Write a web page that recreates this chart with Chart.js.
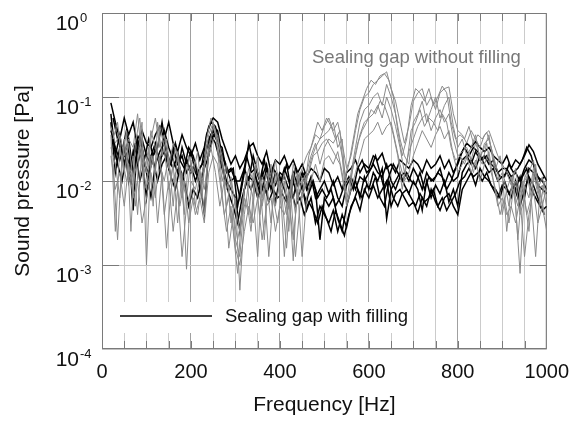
<!DOCTYPE html>
<html>
  <head>
    <title>Sound pressure spectrum</title>
    <script src="https://cdn.jsdelivr.net/npm/chart.js"></script>
    <style>
      body {
        margin: 0;
        background: #fff;
      }
      .chart-container {
        width: 580px;
        height: 421px;
      }
    </style>
  </head>
  <body>
    <div class="chart-container">
      <canvas id="myChart"></canvas>
    </div>

    <script>
// frequency points [Hz]
const freq = [20, 30, 40, 50, 60, 70, 80, 90, 100,
  110, 120, 130, 140, 150, 160, 170, 180, 190, 200,
  210, 220, 230, 240, 250, 260, 270, 280, 290, 300,
  310, 320, 330, 340, 350, 360, 370, 380, 390, 400,
  410, 420, 430, 440, 450, 460, 470, 480, 490, 500,
  510, 520, 530, 540, 550, 560, 570, 580, 590, 600,
  610, 620, 630, 640, 650, 660, 670, 680, 690, 700,
  710, 720, 730, 740, 750, 760, 770, 780, 790, 800,
  810, 820, 830, 840, 850, 860, 870, 880, 890, 900,
  910, 920, 930, 940, 950, 960, 970, 980, 990, 1000];
// second set of measurements, sampled in between
const freqB = [25, 35, 45, 55, 65, 75, 85, 95,
  105, 115, 125, 135, 145, 155, 165, 175, 185, 195,
  205, 215, 225, 235, 245, 255, 265, 275, 285, 295,
  305, 315, 325, 335, 345, 355, 365, 375, 385, 395,
  405, 415, 425, 435, 445, 455, 465, 475, 485, 495,
  505, 515, 525, 535, 545, 555, 565, 575, 585, 595,
  605, 615, 625, 635, 645, 655, 665, 675, 685, 695,
  705, 715, 725, 735, 745, 755, 765, 775, 785, 795,
  805, 815, 825, 835, 845, 855, 865, 875, 885, 895,
  905, 915, 925, 935, 945, 955, 965, 975, 985, 995];

// levels, as log10 of sound pressure in Pa
// sealing gap without filling (grey)
const noFill1 = [-1.35, -1.55, -1.45, -1.7, -1.5, -1.6, -1.2, -1.75, -2.1,
  -1.5, -1.25, -1.6, -1.45, -1.85, -1.55, -1.7, -2.2, -1.8, -1.9,
  -1.75, -2.0, -1.8, -1.45, -1.3, -1.5, -1.7, -2.1, -1.95, -2.3,
  -2.6, -2.1, -1.85, -2.0, -1.7, -2.2, -1.9, -2.05, -1.75, -2.15,
  -1.9, -2.3, -1.8, -2.0, -1.85, -1.7, -1.6, -1.45, -1.5, -1.35,
  -1.25, -1.4, -1.3, -1.55, -1.85, -1.7, -1.4, -1.15, -1.0, -0.95,
  -0.85, -0.8, -0.75, -0.7, -0.9, -1.05, -1.3, -1.55, -1.35, -1.05,
  -0.95, -0.9, -1.1, -1.0, -1.15, -0.95, -0.9, -0.88, -1.2, -1.4,
  -1.45, -1.55, -1.4, -1.5, -1.6, -1.45, -1.4, -1.55, -1.7, -1.8,
  -1.9, -2.05, -1.85, -2.2, -2.0, -1.9, -1.75, -2.1, -1.95, -2.2];
const noFill2 = [-1.45, -2.6, -1.6, -1.9, -1.55, -2.0, -1.75, -1.3, -3.0,
  -1.7, -1.9, -1.35, -1.6, -2.1, -1.8, -2.5, -1.9, -3.05, -2.0,
  -2.1, -1.85, -2.4, -1.6, -1.35, -1.55, -2.0, -1.8, -2.5, -2.2,
  -3.3, -2.4, -2.0, -2.2, -2.9, -1.95, -2.1, -1.8, -2.3, -2.0,
  -2.9, -2.1, -2.95, -1.9, -2.2, -2.0, -1.75, -1.6, -1.5, -1.45,
  -1.4, -1.3, -1.6, -1.5, -2.25, -1.9, -1.6, -1.3, -1.15, -1.1,
  -1.0, -0.95, -1.1, -0.85, -1.0, -1.2, -1.5, -1.7, -1.8, -1.3,
  -1.2, -1.05, -1.3, -1.15, -1.0, -1.25, -1.1, -1.0, -1.35, -1.6,
  -1.5, -1.7, -1.6, -1.45, -1.75, -1.55, -1.5, -1.7, -1.9, -2.4,
  -2.1, -1.95, -2.3, -3.1, -2.05, -2.2, -1.85, -2.0, -2.3, -2.05];
const noFill3 = [-1.6, -1.8, -2.2, -1.5, -2.0, -1.7, -2.4, -1.6, -1.9,
  -1.4, -1.6, -1.8, -2.0, -1.7, -2.3, -1.65, -2.0, -2.2, -1.75,
  -2.3, -1.9, -2.1, -1.7, -1.5, -1.45, -1.8, -2.3, -2.0, -2.7,
  -2.9, -2.2, -2.4, -1.9, -2.1, -2.3, -2.0, -2.5, -1.9, -2.2,
  -2.0, -2.6, -1.9, -2.2, -2.0, -1.9, -1.7, -1.55, -1.8, -1.6,
  -1.5, -1.55, -1.45, -1.7, -2.0, -1.95, -1.7, -1.45, -1.3, -1.25,
  -1.2, -1.1, -1.25, -1.0, -1.15, -1.35, -1.6, -1.9, -1.65, -1.5,
  -1.35, -1.25, -1.2, -1.4, -1.25, -1.15, -1.3, -1.2, -1.5, -1.7,
  -1.65, -1.6, -1.75, -1.55, -1.7, -1.6, -1.45, -1.8, -2.0, -1.9,
  -2.6, -2.1, -2.0, -2.4, -2.2, -2.6, -1.9, -2.15, -2.05, -2.3];
const noFill4 = [-1.7, -2.1, -1.9, -2.3, -1.8, -2.2, -2.0, -2.5, -2.2,
  -1.9, -2.2, -1.7, -2.4, -2.0, -2.6, -2.1, -2.9, -2.3, -2.1,
  -2.4, -2.2, -2.5, -1.9, -1.7, -1.8, -2.2, -2.6, -2.3, -2.8,
  -3.0, -2.6, -2.3, -2.5, -2.2, -2.7, -2.3, -2.2, -2.6, -2.3,
  -2.4, -2.2, -2.7, -2.1, -2.9, -2.2, -2.0, -1.8, -2.0, -1.75,
  -1.7, -1.8, -1.65, -1.9, -2.3, -2.1, -1.9, -1.7, -1.5, -1.45,
  -1.4, -1.3, -1.45, -1.35, -1.3, -1.55, -1.8, -2.0, -1.9, -1.7,
  -1.55, -1.4, -1.5, -1.6, -1.45, -1.35, -1.5, -1.4, -1.7, -1.9,
  -1.8, -1.7, -1.9, -1.75, -2.0, -1.8, -1.65, -2.0, -2.3, -2.2,
  -2.4, -2.3, -2.5, -2.2, -2.9, -2.4, -2.1, -2.5, -2.3, -2.6];
const noFill5 = [-1.5, -1.3, -1.8, -1.4, -2.6, -1.55, -1.25, -1.9,
  -1.6, -2.3, -1.3, -1.7, -1.5, -2.0, -1.6, -1.85, -2.4, -1.7,
  -1.9, -1.65, -2.2, -1.5, -1.25, -1.4, -1.9, -2.4, -2.2, -2.6,
  -3.1, -2.3, -1.9, -2.5, -1.8, -2.0, -2.7, -1.85, -2.1, -1.9,
  -2.2, -2.8, -2.0, -2.4, -1.9, -2.1, -1.7, -1.5, -1.3, -1.4,
  -1.25, -1.35, -1.5, -1.4, -2.0, -1.8, -1.5, -1.2, -1.05, -0.9,
  -0.8, -0.85, -0.75, -0.72, -0.8, -1.0, -1.4, -1.7, -1.5, -1.1,
  -0.9, -0.95, -1.05, -0.9, -1.1, -1.0, -0.87, -0.95, -1.3, -1.5,
  -1.45, -1.5, -1.35, -1.55, -1.45, -1.5, -1.42, -1.6, -1.85, -1.7,
  -2.0, -2.3, -1.9, -2.7, -2.05, -1.9, -2.2, -1.8, -2.3, -2.0];
const noFill6 = [-1.8, -2.7, -1.7, -2.0, -1.9, -2.3, -1.6, -2.1,
  -2.0, -1.7, -2.5, -1.9, -2.8, -2.1, -1.9, -2.3, -2.0, -2.5,
  -2.2, -2.4, -2.0, -1.7, -1.6, -1.9, -2.3, -2.0, -2.8, -2.4,
  -2.7, -2.4, -2.2, -2.6, -2.0, -2.4, -2.1, -2.9, -2.2, -2.5,
  -2.1, -2.4, -2.2, -2.9, -2.3, -2.0, -1.9, -1.7, -1.65, -1.55,
  -1.5, -1.6, -1.7, -1.8, -2.1, -2.2, -1.8, -1.55, -1.4, -1.3,
  -1.15, -1.2, -1.05, -1.1, -1.25, -1.45, -1.7, -2.1, -1.8, -1.4,
  -1.3, -1.15, -1.35, -1.25, -1.3, -1.4, -1.2, -1.3, -1.6, -1.75,
  -1.7, -1.8, -1.65, -1.9, -1.7, -1.8, -1.55, -1.9, -2.1, -2.4,
  -2.2, -2.5, -2.1, -2.3, -2.0, -2.4, -2.2, -2.9, -2.1, -2.4];

// sealing gap with filling (black)
const withFill1 = [-1.07, -1.3, -1.5, -1.25, -1.45, -1.3, -1.6, -1.4, -1.55,
  -1.6, -1.45, -1.35, -1.5, -1.3, -1.55, -1.65, -1.45, -1.6, -1.7,
  -1.55, -1.75, -1.6, -1.35, -1.25, -1.3, -1.5, -1.65, -1.8, -1.7,
  -1.85, -1.75, -1.6, -1.55, -1.7, -1.8, -1.65, -1.9, -1.75, -1.8,
  -1.7, -1.85, -1.75, -1.9, -1.8, -1.95, -1.85, -1.9, -2.0, -1.85,
  -1.9, -2.05, -1.95, -2.1, -1.9, -1.85, -1.75, -1.9, -1.8, -1.85,
  -1.7, -1.75, -1.67, -1.85, -1.8, -1.9, -1.75, -1.8, -1.85, -1.75,
  -1.8, -1.9, -1.75, -1.85, -1.8, -1.7, -1.85, -1.75, -1.9, -1.8,
  -1.65, -1.55, -1.6, -1.53, -1.6, -1.65, -1.6, -1.7, -1.75, -1.8,
  -1.7, -1.85, -1.75, -1.8, -1.7, -1.57, -1.65, -1.8, -1.9, -2.0];
const withFill2 = [-1.2, -1.7, -1.45, -1.8, -1.6, -2.35, -1.5, -1.75, -2.2,
  -1.7, -1.55, -1.85, -1.4, -1.6, -1.75, -1.9, -1.6, -1.8, -1.65,
  -1.9, -2.0, -2.38, -1.6, -1.35, -1.4, -1.7, -1.85, -2.0, -1.95,
  -2.2, -1.9, -1.55, -1.8, -2.05, -1.95, -1.8, -2.1, -1.9, -2.05,
  -1.85, -2.0, -2.2, -1.95, -2.1, -2.25, -2.0, -2.1, -2.7, -2.2,
  -2.3, -2.2, -2.45, -2.6, -2.3, -2.1, -2.0, -2.2, -1.95, -2.1,
  -1.9, -2.0, -1.85, -2.45, -2.1, -2.0, -1.9, -2.05, -2.15, -2.0,
  -2.1, -2.35, -2.0, -2.2, -2.05, -2.15, -2.0, -2.25, -2.1, -2.3,
  -1.9, -1.8, -1.75, -1.85, -1.7, -1.8, -1.9, -1.85, -2.0, -1.95,
  -1.9, -2.0, -2.1, -1.95, -2.2, -1.85, -1.9, -2.05, -2.1, -2.15];
const withFill3 = [-1.4, -1.6, -1.75, -1.55, -2.0, -1.65, -1.8, -1.6, -1.9,
  -2.19, -1.8, -1.65, -1.55, -1.75, -1.85, -1.7, -2.0, -1.75, -1.9,
  -1.8, -2.1, -1.85, -1.7, -1.45, -1.5, -1.8, -2.0, -2.1, -2.2,
  -2.6, -2.1, -1.95, -2.0, -2.2, -1.9, -2.15, -2.0, -2.25, -1.95,
  -2.1, -2.3, -2.0, -2.2, -2.05, -2.35, -2.2, -2.5, -2.3, -2.4,
  -2.5, -2.35, -2.6, -2.4, -2.55, -2.3, -2.2, -2.35, -2.1, -2.2,
  -2.05, -2.2, -2.1, -2.0, -2.3, -2.15, -2.1, -2.2, -2.3, -2.25,
  -2.38, -2.2, -2.3, -2.1, -2.25, -2.35, -2.2, -2.15, -2.3, -2.4,
  -2.1, -2.0, -1.9, -2.05, -1.85, -1.95, -2.0, -2.1, -2.2, -2.05,
  -2.1, -2.2, -2.0, -2.3, -2.1, -1.95, -2.05, -2.2, -2.35, -2.3];
const withFill4 = [-1.3, -1.9, -1.6, -1.7, -1.5, -1.9, -1.65, -1.5, -1.7,
  -1.8, -1.6, -1.75, -1.65, -1.85, -1.6, -1.8, -1.7, -1.9, -1.8,
  -2.0, -1.85, -1.75, -1.5, -1.4, -1.55, -1.6, -1.9, -1.85, -2.0,
  -2.0, -1.85, -2.0, -1.7, -1.9, -2.1, -1.85, -1.95, -2.05, -1.9,
  -1.95, -2.1, -1.9, -2.05, -1.9, -2.1, -1.95, -2.2, -2.1, -2.0,
  -2.15, -2.0, -2.2, -2.3, -2.05, -1.95, -2.1, -1.95, -2.0, -1.9,
  -1.8, -1.9, -1.95, -1.8, -2.0, -2.1, -1.95, -1.9, -2.0, -1.85,
  -1.95, -2.1, -1.9, -2.0, -1.95, -1.85, -2.05, -1.9, -2.0, -1.95,
  -1.75, -1.7, -1.8, -1.65, -1.75, -1.7, -1.8, -1.75, -1.9, -1.85,
  -1.85, -1.95, -1.9, -2.0, -1.85, -1.75, -1.8, -1.95, -2.0, -2.1];
const withFill5 = [-1.25, -1.5, -1.65, -1.4, -1.8, -1.55, -1.45, -1.75,
  -1.5, -1.7, -1.6, -1.3, -1.65, -1.8, -1.55, -1.75, -1.85, -1.6,
  -1.7, -1.9, -1.8, -1.45, -1.3, -1.35, -1.6, -1.75, -1.9, -1.85,
  -2.3, -2.0, -1.7, -1.9, -1.85, -2.0, -1.75, -2.05, -1.85, -1.95,
  -2.0, -1.8, -2.1, -1.85, -2.0, -1.9, -2.15, -2.0, -2.2, -2.1,
  -2.2, -2.1, -2.3, -2.2, -2.05, -1.95, -2.1, -1.85, -1.75, -1.9,
  -1.85, -1.7, -1.9, -2.1, -1.95, -1.8, -1.9, -2.0, -1.9, -2.0,
  -2.05, -1.9, -2.1, -1.95, -2.0, -1.9, -1.95, -2.1, -2.0, -1.85,
  -1.7, -1.6, -1.7, -1.6, -1.65, -1.75, -1.7, -1.8, -1.85, -1.95,
  -1.95, -1.8, -1.9, -1.85, -1.75, -1.6, -1.7, -1.9, -2.0, -1.95];
const withFill6 = [-1.5, -1.8, -2.0, -1.7, -1.85, -1.6, -2.0, -1.8,
  -1.9, -1.75, -2.0, -1.8, -1.7, -1.95, -2.1, -1.85, -2.0, -2.3,
  -2.1, -2.2, -1.95, -1.6, -1.45, -1.55, -1.75, -1.95, -2.15, -2.3,
  -2.5, -2.2, -2.0, -2.1, -1.95, -2.15, -2.05, -2.25, -2.1, -2.2,
  -2.15, -2.25, -2.1, -2.3, -2.2, -2.4, -2.25, -2.35, -2.5, -2.3,
  -2.45, -2.6, -2.35, -2.5, -2.65, -2.4, -2.25, -2.1, -2.2, -2.05,
  -2.1, -1.95, -2.2, -2.3, -2.0, -2.2, -2.3, -2.15, -2.1, -2.2,
  -2.3, -2.15, -2.25, -2.2, -2.1, -2.3, -2.2, -2.35, -2.25, -2.15,
  -2.0, -1.95, -1.85, -1.95, -1.9, -2.0, -1.9, -2.05, -2.1, -2.2,
  -2.0, -2.15, -2.05, -2.2, -1.95, -1.85, -2.1, -2.2, -2.3, -2.4];

const noFillSeries = [
  [freq, noFill1], [freqB, noFill5], [freq, noFill2],
  [freqB, noFill6], [freq, noFill3], [freq, noFill4],
];
const withFillSeries = [
  [freq, withFill1], [freqB, withFill5], [freq, withFill2],
  [freqB, withFill6], [freq, withFill3], [freq, withFill4],
];
const yDecades = [-4, -3, -2, -1, 0];
const xLabelEvery = 200;

function toPoints(f, levels) {
  return levels.map((v, i) => ({ x: f[i], y: Math.pow(10, v) }));
}

const datasets = [];
noFillSeries.forEach(([f, s]) => {
  datasets.push({ data: toPoints(f, s), borderColor: "#8a8a8a", borderWidth: 1 });
});
withFillSeries.forEach(([f, s]) => {
  datasets.push({ data: toPoints(f, s), borderColor: "#000000", borderWidth: 1.5 });
});

// white boxes behind the annotations, inner tick marks, log labels
const decor = {
  id: "decor",
  beforeDatasetsDraw(chart) {
    const { ctx, chartArea: a, scales } = chart;
    ctx.save();
    ctx.fillStyle = "#fff";
    ctx.fillRect(a.left + 1, 302, 303, 31);
    ctx.fillRect(310, 44, 215, 24);
    ctx.strokeStyle = "#7a7a7a";
    ctx.lineWidth = 1;
    ctx.beginPath();
    for (let f = 50; f < 1000; f += 50) {
      const px = Math.round(scales.x.getPixelForValue(f)) + 0.5;
      ctx.moveTo(px, a.top); ctx.lineTo(px, a.top + 8);
      ctx.moveTo(px, a.bottom); ctx.lineTo(px, a.bottom - 8);
    }
    yDecades.slice(1, -1).forEach((d) => {
      const py = Math.round(scales.y.getPixelForValue(Math.pow(10, d))) + 0.5;
      ctx.moveTo(a.left, py); ctx.lineTo(a.left + 17, py);
      ctx.moveTo(a.right, py); ctx.lineTo(a.right - 17, py);
    });
    ctx.stroke();
    ctx.strokeRect(a.left + 0.5, a.top + 0.5, a.right - a.left - 1, a.bottom - a.top - 1);
    ctx.restore();
  },
  afterDraw(chart) {
    const { ctx, scales } = chart;
    ctx.save();
    ctx.textBaseline = "middle";
    // legend line
    ctx.strokeStyle = "#000";
    ctx.lineWidth = 1.5;
    ctx.beginPath();
    ctx.moveTo(120, 316); ctx.lineTo(212, 316);
    ctx.stroke();
    ctx.font = '18.5px "Liberation Sans", Arial, sans-serif';
    ctx.fillStyle = "#111";
    ctx.fillText("Sealing gap with filling", 225, 317);
    ctx.fillStyle = "#777";
    ctx.fillText("Sealing gap without filling", 312, 58);
    // y tick labels 10^n
    yDecades.forEach((d) => {
      const py = scales.y.getPixelForValue(Math.pow(10, d));
      ctx.fillStyle = "#111";
      ctx.textAlign = "right";
      ctx.font = '21px "Liberation Sans", Arial, sans-serif';
      ctx.fillText("10", 79, py + 11);
      ctx.textAlign = "left";
      ctx.font = '13px "Liberation Sans", Arial, sans-serif';
      ctx.fillText(d === 0 ? "0" : "-" + Math.abs(d), 80, py + 5);
    });
    ctx.restore();
  },
};

const ctx = document.getElementById("myChart").getContext("2d");
new Chart(ctx, {
  type: "line",
  data: { datasets: datasets },
  plugins: [decor],
  options: {
    responsive: true,
    maintainAspectRatio: false,
    animation: false,
    layout: { padding: { top: 13, right: 24, left: 0, bottom: 0 } },
    elements: { point: { radius: 0 }, line: { tension: 0 } },
    plugins: { legend: { display: false }, tooltip: { enabled: false } },
    scales: {
      x: {
        type: "linear",
        min: 0,
        max: 1000,
        afterFit(scale) { scale.height = 72; },
        border: { display: false },
        grid: {
          drawTicks: false,
          color: (c) => (c.tick.value % xLabelEvery === 0 ? "#a0a0a0" : "#cbcbcb"),
        },
        ticks: {
          stepSize: 50,
          autoSkip: false,
          maxRotation: 0,
          padding: 11,
          color: "#111",
          font: { family: '"Liberation Sans", Arial, sans-serif', size: 20 },
          callback: (v) => (v % xLabelEvery === 0 ? v : ""),
        },
        title: {
          display: true,
          text: "Frequency [Hz]",
          color: "#111",
          padding: { top: 0, bottom: 3 },
          font: { family: '"Liberation Sans", Arial, sans-serif', size: 21 },
        },
      },
      y: {
        type: "logarithmic",
        min: 1e-4,
        max: 1,
        afterBuildTicks(scale) {
          scale.ticks = yDecades.map((d) => ({ value: Math.pow(10, d) }));
        },
        afterFit(scale) { scale.width = 102; },
        border: { display: false },
        grid: { drawTicks: false, color: "#c2c2c2" },
        ticks: { display: false },
        title: {
          display: true,
          text: "Sound pressure [Pa]",
          color: "#111",
          padding: { top: 11, bottom: 0 },
          font: { family: '"Liberation Sans", Arial, sans-serif', size: 21 },
        },
      },
    },
  },
});
    </script>
  </body>
</html>
